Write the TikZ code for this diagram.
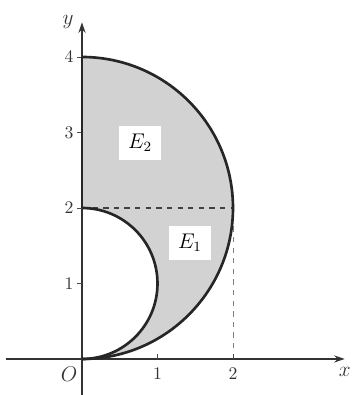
\documentclass[tikz,border=0pt]{standalone}
\usepackage{amsmath,amssymb}
\usepackage{tikz}
\usetikzlibrary{arrows.meta, positioning, calc}

\begin{document}
\begin{tikzpicture}[x=1.5cm, y=1.5cm,
    boundary/.style={line width=1.5pt, black!85},
    axisline/.style={line width=0.9pt, black!80, -{Stealth[length=6pt, width=4pt]}},
    region/.style={fill=gray!35},
    elabel/.style={fill=white, inner xsep=5pt, inner ysep=4.5pt, font=\large}]
\useasboundingbox (-1.086,-0.477) rectangle (3.60,4.755);
% Points
\coordinate (O) at (0,0);
\coordinate (A) at (0,2);
\coordinate (B) at (0,4);
\coordinate (P) at (2,2);
\coordinate (Q) at (2,0);
% Shaded region
\fill[region] (O) arc (-90:90:2) -- (A) arc (90:-90:1) -- cycle;
% Guide lines
\draw[dashed, thick, black!75] (A) -- (P);
\draw[dashed, black!50] (Q) -- (P);
% Axes
\draw[axisline] (-1,0) -- (3.48,0) node[below=1pt, font=\large] (xl) {$x$};
\draw[axisline] (0,-0.477) -- (0,4.46) node[left=1pt, font=\large] (yl) {$y$};
% Ticks
\foreach \x in {1,2} {
    \draw[black!70] (\x,0) -- (\x,0.06);
    \node[below, black!80] (tx\x) at (\x,-0.03) {\x};
}
\foreach \y in {1,2,3,4} {
    \draw[black!70] (0,\y) -- (-0.06,\y);
    \node[left, black!80, inner sep=2pt] (ty\y) at (-0.06,\y) {\y};
}
\node[black!80, font=\large] (o) at (-0.17,-0.2) {$O$};
% Boundary
\draw[boundary] (O) arc (-90:90:2);
\draw[boundary] (A) arc (90:-90:1);
\draw[boundary] (A) -- (B);
% Labels
\node[elabel] (e1) at (1.43,1.54) {$E_1$};
\node[elabel] (e2) at (0.77,2.86) {$E_2$};
\end{tikzpicture}
\end{document}
